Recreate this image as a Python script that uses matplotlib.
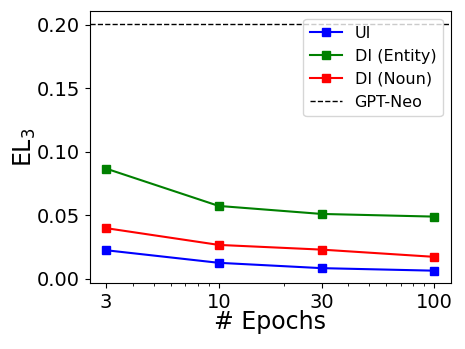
import matplotlib.pyplot as plt
from matplotlib.ticker import NullFormatter

epochs = [3, 10, 30, 100]
ui = [0.0224, 0.0125, 0.0083, 0.0063]
di_entity = [0.0867, 0.0573, 0.0510, 0.0489]
di_noun = [0.0398, 0.0266, 0.0229, 0.0172]
gpt_neo = 0.201

fig, ax = plt.subplots(figsize=(4.65, 3.49), dpi=100)
fig.subplots_adjust(left=0.193, right=0.969, top=0.968, bottom=0.189)

ax.plot(epochs, ui, color='blue', marker='s', label='UI')
ax.plot(epochs, di_entity, color='green', marker='s', label='DI (Entity)')
ax.plot(epochs, di_noun, color='red', marker='s', label='DI (Noun)')
ax.axhline(gpt_neo, color='black', linestyle='--', linewidth=1, label='GPT-Neo')

ax.set_xscale('log')
ax.set_xticks(epochs)
ax.set_xticklabels([str(e) for e in epochs])
ax.xaxis.set_minor_formatter(NullFormatter())
ax.set_yticks([0.0, 0.05, 0.10, 0.15, 0.20])
ax.set_yticklabels(['0.00', '0.05', '0.10', '0.15', '0.20'])
ax.tick_params(labelsize=14)

ax.set_xlabel('# Epochs', fontsize=17, labelpad=-1)
ax.set_ylabel('EL$_3$', fontsize=17, labelpad=-1)
ax.legend(loc='upper right', fontsize=11.5)

fig.savefig('out.png')
